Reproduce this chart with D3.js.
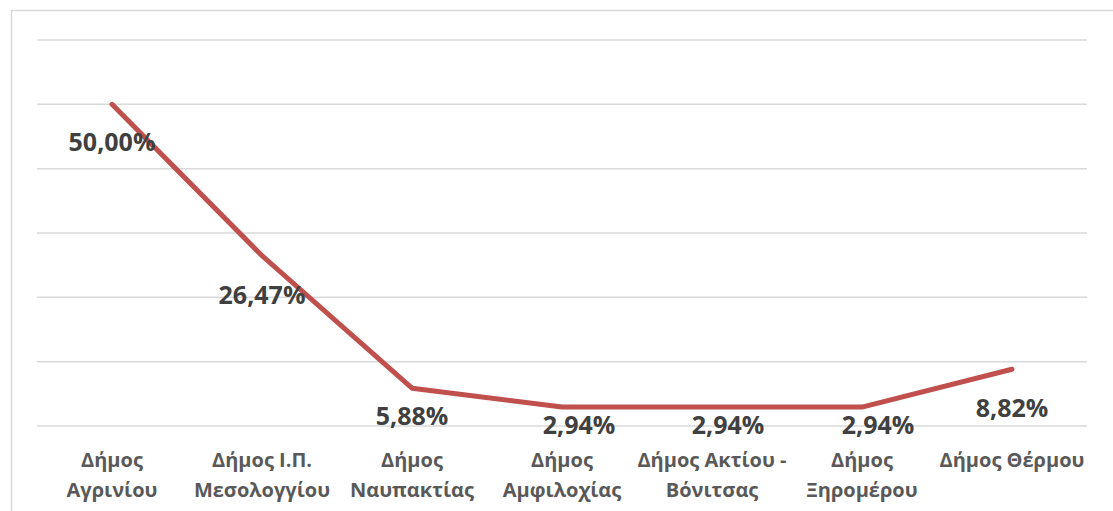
<!DOCTYPE html>
<html><head><meta charset="utf-8">
<script src="https://cdn.jsdelivr.net/npm/d3@7"></script>
<style>body{margin:0;background:#fff}svg{display:block}</style>
</head><body>
<svg id="c" width="1113" height="511"></svg>
<script>
const categories = [
  ["Δήμος","Αγρινίου"],
  ["Δήμος Ι.Π.","Μεσολογγίου"],
  ["Δήμος","Ναυπακτίας"],
  ["Δήμος","Αμφιλοχίας"],
  ["Δήμος Ακτίου -","Βόνιτσας"],
  ["Δήμος","Ξηρομέρου"],
  ["Δήμος Θέρμου"]
];
const values = [50.00, 26.47, 5.88, 2.94, 2.94, 2.94, 8.82];
const yTicks = [0, 10, 20, 30, 40, 50, 60];
const labelDx = [0, 0, 0, 17, 16, 16, 0];
const labelDy = [38, 40, 28, 18, 18, 18, 39];

const svg = d3.select("#c");
const W = 1113, H = 511;
const m = {left: 37, right: 26, top: 40, bottom: 85};

svg.append("rect").attr("x", 11.5).attr("y", 10.5).attr("width", 1120).attr("height", 520)
  .attr("fill", "#fff").attr("stroke", "#d9d9d9").attr("stroke-width", 1.5);

const x = d3.scaleBand().domain(d3.range(categories.length)).range([m.left, W - m.right]);
const y = d3.scaleLinear().domain([0, 60]).range([H - m.bottom, m.top]);

svg.append("g").selectAll("line").data(yTicks).join("line")
  .attr("x1", m.left).attr("x2", W - m.right)
  .attr("y1", d => y(d)).attr("y2", d => y(d))
  .attr("stroke", "#d9d9d9").attr("stroke-width", 1.5);

const line = d3.line().x((d, i) => x(i) + x.bandwidth() / 2).y(d => y(d));
svg.append("path").datum(values).attr("d", line)
  .attr("fill", "none").attr("stroke", "#c0504d").attr("stroke-width", 5)
  .attr("stroke-linejoin", "round").attr("stroke-linecap", "round");

const fmt = v => v.toFixed(2).replace(".", ",") + "%";
svg.append("g").selectAll("text").data(values).join("text")
  .attr("x", (d, i) => x(i) + x.bandwidth() / 2 + labelDx[i])
  .attr("y", (d, i) => y(d) + labelDy[i])
  .attr("dy", "0.35em")
  .attr("text-anchor", "middle")
  .attr("font-family", "Open Sans, sans-serif").attr("font-weight", "bold")
  .attr("font-size", 25).attr("fill", "#404040")
  .text(fmt);

const cat = svg.append("g").selectAll("text").data(categories).join("text")
  .attr("x", (d, i) => x(i) + x.bandwidth() / 2)
  .attr("y", 460)
  .attr("text-anchor", "middle")
  .attr("font-family", "Open Sans, sans-serif").attr("font-weight", "bold")
  .attr("font-size", 20).attr("fill", "#595959");
cat.each(function(d) {
  const t = d3.select(this);
  d.forEach((s, k) => t.append("tspan").attr("x", t.attr("x")).attr("dy", k === 0 ? "0.35em" : 30).text(s));
});
</script>
</body></html>
